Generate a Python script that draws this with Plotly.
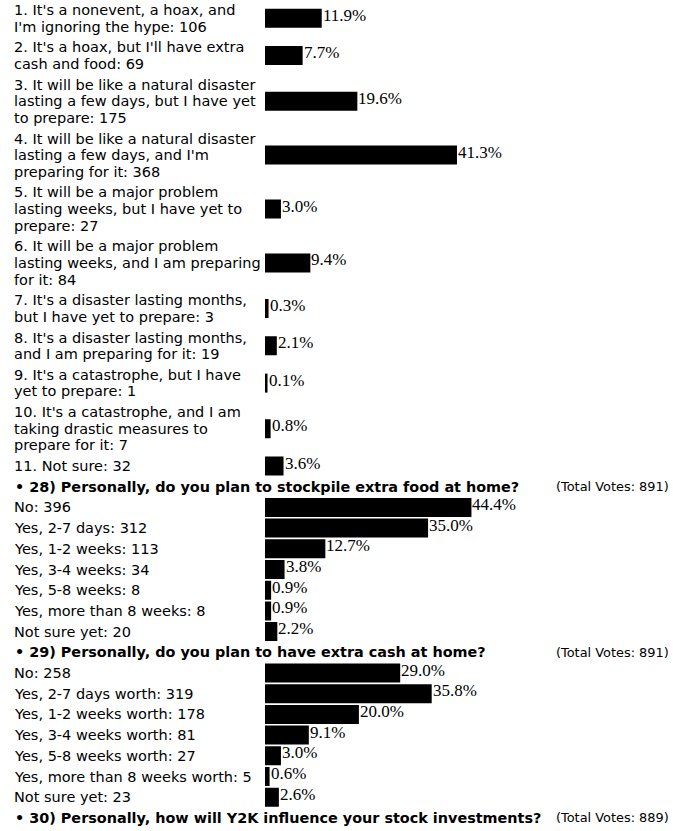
import plotly.graph_objects as go

# ---------------- data ----------------
# Question 27 (header above the crop): what do you expect of Y2K?
q27_options = [
    "1. It's a nonevent, a hoax, and|I'm ignoring the hype",
    "2. It's a hoax, but I'll have extra|cash and food",
    "3. It will be like a natural disaster|lasting a few days, but I have yet|to prepare",
    "4. It will be like a natural disaster|lasting a few days, and I'm|preparing for it",
    "5. It will be a major problem|lasting weeks, but I have yet to|prepare",
    "6. It will be a major problem|lasting weeks, and I am preparing|for it",
    "7. It's a disaster lasting months,|but I have yet to prepare",
    "8. It's a disaster lasting months,|and I am preparing for it",
    "9. It's a catastrophe, but I have|yet to prepare",
    "10. It's a catastrophe, and I am|taking drastic measures to|prepare for it",
    "11. Not sure",
]
q27_votes = [106, 69, 175, 368, 27, 84, 3, 19, 1, 7, 32]

q28_title = "28) Personally, do you plan to stockpile extra food at home?"
q28_total = 891
q28_options = ["No", "Yes, 2-7 days", "Yes, 1-2 weeks", "Yes, 3-4 weeks",
               "Yes, 5-8 weeks", "Yes, more than 8 weeks", "Not sure yet"]
q28_votes = [396, 312, 113, 34, 8, 8, 20]

q29_title = "29) Personally, do you plan to have extra cash at home?"
q29_total = 891
q29_options = ["No", "Yes, 2-7 days worth", "Yes, 1-2 weeks worth", "Yes, 3-4 weeks worth",
               "Yes, 5-8 weeks worth", "Yes, more than 8 weeks worth", "Not sure yet"]
q29_votes = [258, 319, 178, 81, 27, 5, 23]

q30_title = "30) Personally, how will Y2K influence your stock investments?"
q30_total = 889

# ---------------- layout constants ----------------
W, H = 693, 831
BAR_X0 = 266          # pixel where 0 % sits
PX_PER_PCT = 4.6      # pixel per percent
LINE = 16.6           # line spacing of label text
PAD = 4.1             # extra space between rows
Y0 = 10               # first line centre
TEXT_X = 13
TOTAL_X = 555
LABEL_FONT = dict(family="DejaVu Sans", size=14.5, color="black")
HEAD_FONT = dict(family="DejaVu Sans", size=14.4, color="black")
TOTAL_FONT = dict(family="DejaVu Sans", size=12.9, color="black")
PCT_FONT = dict(family="Liberation Serif", size=17, color="black")

annotations = []
bar_x, bar_y, pct_txt = [], [], []

def add_text(txt, y, x=TEXT_X, font=LABEL_FONT):
    annotations.append(dict(
        x=x / W, xref="paper", y=y, yref="y", xanchor="left", yanchor="middle",
        text=txt, showarrow=False, font=font, borderpad=0))

def add_group(options, votes, y):
    total = sum(votes)
    for opt, v in zip(options, votes):
        lines = f"{opt}: {v}".split("|")
        for i, ln in enumerate(lines):
            add_text(ln, y + i * LINE)
        centre = y + (len(lines) - 1) * LINE / 2
        pct = v / total * 100
        bar_x.append(pct)
        bar_y.append(centre)
        pct_txt.append(f"{pct:.1f}%")
        y += len(lines) * LINE + PAD
    return y

def add_header(title, total, y):
    add_text("<b>\u2022 " + title + "</b>", y, x=TEXT_X + 1, font=HEAD_FONT)
    add_text(f"(Total Votes: {total})", y, x=TOTAL_X, font=TOTAL_FONT)
    return y + LINE + PAD

y = Y0
y = add_group(q27_options, q27_votes, y)
y = add_header(q28_title, q28_total, y)
y = add_group(q28_options, q28_votes, y)
y = add_header(q29_title, q29_total, y)
y = add_group(q29_options, q29_votes, y)
y = add_header(q30_title, q30_total, y)

for px, py, t in zip(bar_x, bar_y, pct_txt):
    annotations.append(dict(
        x=px, xref="x", y=py, yref="y", xanchor="left", yanchor="middle",
        xshift=1, yshift=3, text=t, showarrow=False, font=PCT_FONT, borderpad=0))

fig = go.Figure(go.Bar(
    x=bar_x, y=bar_y, orientation="h", base=0, width=17,
    marker=dict(color="black", line=dict(color="black", width=2)),
    hoverinfo="skip"))

fig.update_layout(
    width=W, height=H, margin=dict(l=0, r=0, t=0, b=0),
    paper_bgcolor="white", plot_bgcolor="white", showlegend=False,
    annotations=annotations,
    xaxis=dict(range=[-BAR_X0 / PX_PER_PCT, (W - BAR_X0) / PX_PER_PCT],
               visible=False, fixedrange=True),
    yaxis=dict(range=[H, 0], visible=False, fixedrange=True),
)

fig.write_html("out.html")
